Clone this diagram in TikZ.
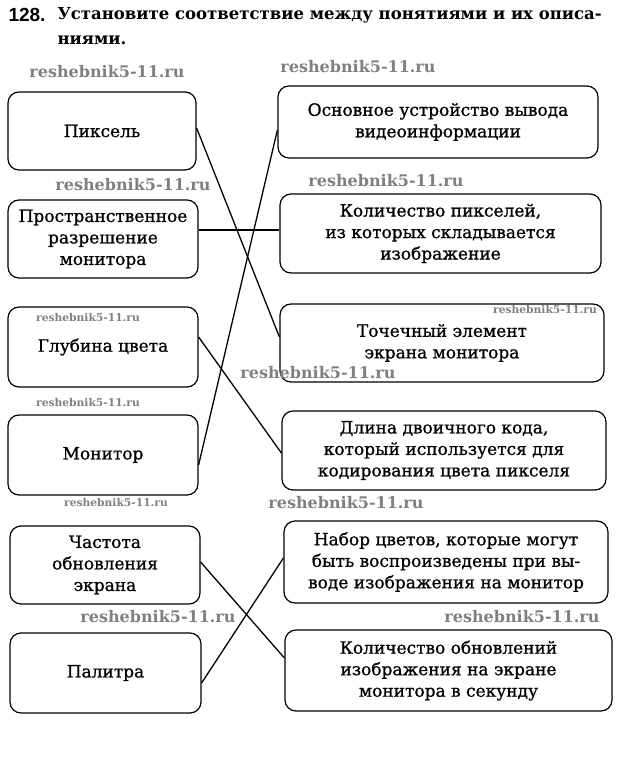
\documentclass[tikz,border=0pt]{standalone}
\usepackage{fontspec}
\setmainfont{DejaVu Serif}
\newfontfamily\numfont{Liberation Sans}
\newfontfamily\boxfont[FakeBold=0.9]{DejaVu Serif}
\usepackage{tikz}
\usetikzlibrary{calc}

\begin{document}
\begin{tikzpicture}[
    x=1pt, y=-1pt,
    concept/.style={draw, line width=1.2pt, rounded corners=11pt, align=center,
      font=\boxfont\fontsize{17}{21.5}\selectfont},
    description/.style={concept},
    match line/.style={line width=1.3pt},
    big mark/.style={text=black!50, font=\bfseries\fontsize{16}{16}\selectfont},
    small mark/.style={text=black!50, font=\bfseries\fontsize{10.7}{10.7}\selectfont},
    task text/.style={anchor=west, font=\bfseries\fontsize{16.5}{17}\selectfont},
    every node/.style={color=black}
    ]
    \useasboundingbox (0,0) rectangle (629,770);

    % task
    \node (num) [anchor=west, font=\numfont\bfseries\fontsize{19}{19}\selectfont] at (5,15) {128.};
    \node (task1) [task text] at (54,15) {Установите соответствие между понятиями и их описа-};
    \node (task2) [task text] at (54,40) {ниями.};

    % left column
    \node (pix) [concept, minimum width=188, minimum height=78] at (102,131) {Пиксель};
    \node (res) [concept, minimum width=190, minimum height=78] at (103,239) {Пространственное\\разрешение\\монитора};
    \node (depth) [concept, minimum width=190, minimum height=80] at (103,347) {Глубина цвета};
    \node (mon) [concept, minimum width=190, minimum height=80] at (103,455) {Монитор};
    \node (freq) [concept, minimum width=190, minimum height=78] at (105,565) {Частота\\обновления\\экрана};
    \node (pal) [concept, minimum width=191, minimum height=80] at (105.5,673) {Палитра};

    % right column
    \node (out) [description, minimum width=320, minimum height=72] at (438,122) {Основное устройство вывода\\видеоинформации};
    \node (count) [description, minimum width=321, minimum height=79] at (440.5,233.5) {Количество пикселей,\\из которых складывается\\изображение};
    \node (dot) [description, minimum width=324, minimum height=78] at (442,343) {Точечный элемент\\экрана монитора};
    \node (len) [description, minimum width=324, minimum height=79] at (444,450.5) {Длина двоичного кода,\\который используется для\\кодирования цвета пикселя};
    \node (set) [description, minimum width=324, minimum height=82] at (446,562) {Набор цветов, которые могут\\быть воспроизведены при вы-\\воде изображения на монитор};
    \node (upd) [description, minimum width=327, minimum height=81] at (448.5,670.5) {Количество обновлений\\изображения на экране\\монитора в секунду};

    % matches
    \draw[match line] ([yshift=3pt]pix.east) -- ([yshift=6pt]dot.west);
    \draw[match line] ([yshift=9pt]res.east) -- ([yshift=3.5pt]count.west);
    \draw[match line] ([yshift=10pt]depth.east) -- ([yshift=-2.5pt]len.west);
    \draw[match line] ([yshift=-10pt]mon.east) -- ([yshift=-8pt]out.west);
    \draw[match line] ([yshift=3pt]freq.east) -- ([yshift=12.5pt]upd.west);
    \draw[match line] ([yshift=-10pt]pal.east) -- ([yshift=4pt]set.west);

    % watermarks
    \node (w1) [big mark] at (107,72) {reshebnik5-11.ru};
    \node (w2) [big mark] at (358,67) {reshebnik5-11.ru};
    \node (w3) [big mark] at (133,185) {reshebnik5-11.ru};
    \node (w4) [big mark] at (386,181) {reshebnik5-11.ru};
    \node (w5) [small mark] at (88,318) {reshebnik5-11.ru};
    \node (w6) [small mark] at (545,310) {reshebnik5-11.ru};
    \node (w7) [big mark] at (318,373) {reshebnik5-11.ru};
    \node (w8) [small mark] at (88,403) {reshebnik5-11.ru};
    \node (w9) [small mark] at (116,503) {reshebnik5-11.ru};
    \node (w10) [big mark] at (346,503) {reshebnik5-11.ru};
    \node (w11) [big mark] at (158,617) {reshebnik5-11.ru};
    \node (w12) [big mark] at (522,617) {reshebnik5-11.ru};

\end{tikzpicture}
\end{document}
